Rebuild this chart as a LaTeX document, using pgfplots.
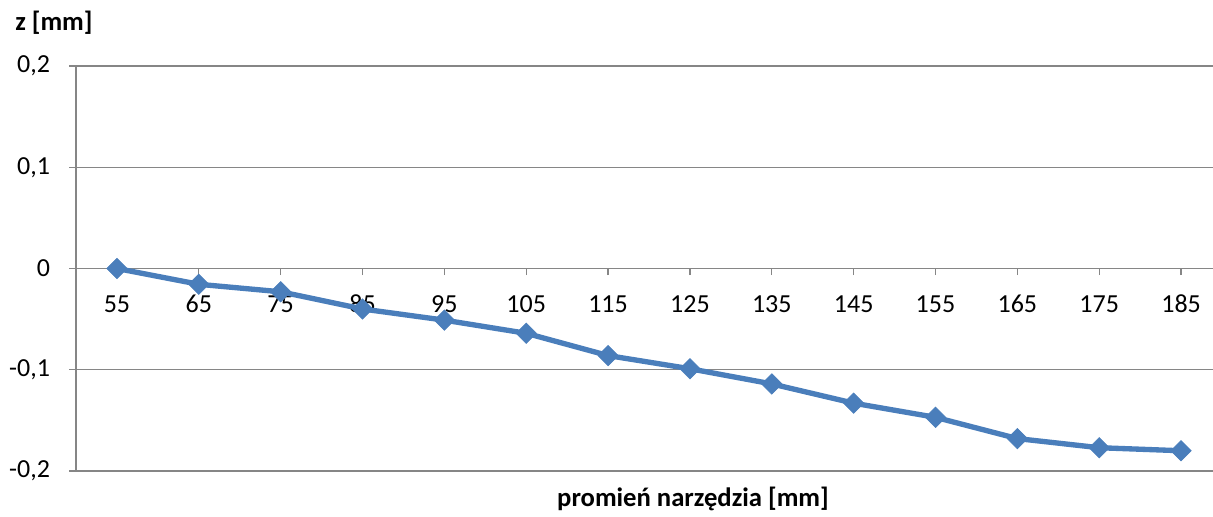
\documentclass[border=0pt]{standalone}
\usepackage{pgfplots}
\pgfplotsset{compat=1.18}
\usepackage{fontspec}
\setmainfont{Carlito}
\definecolor{serie}{RGB}{74,126,187}
\definecolor{gridc}{RGB}{134,134,134}
\begin{document}
\begin{tikzpicture}[x=1pt,y=1pt]
\path[use as bounding box] (0,0) rectangle (909.75,387.75);
\begin{axis}[
  scale only axis,
  width=852.75pt, height=303.75pt,
  at={(57pt,34.5pt)}, anchor=south west,
  xmin=-0.5, xmax=13.39,
  ymin=-0.2, ymax=0.2,
  axis x line=middle, axis y line=left,
  axis line style={gridc, line width=0.9pt, -},
  xtick={0,...,13},
  xticklabels={55,65,75,85,95,105,115,125,135,145,155,165,175,185},
  ytick={-0.2,-0.1,0,0.1,0.2},
  ymajorgrids,
  grid style={gridc, line width=0.9pt},
  tick style={gridc, line width=0.9pt},
  tick align=outside,
  major tick length=5pt,
  /pgf/number format/assume math mode=true,
  /pgf/number format/.cd, use comma, fixed, precision=1,
  /pgfplots/.cd,
  ticklabel style={font=\fontsize{19.5}{21}\selectfont, text=black},
  xticklabel style={anchor=base, yshift=-28pt},
  yticklabel style={anchor=east, xshift=-11pt},
  clip=false,
]
\addplot[serie, line width=4pt, mark=square*, mark size=5.4pt,
  mark options={rotate=45, fill=serie, draw=serie, line width=0.5pt}]
  coordinates {
  (0,0) (1,-0.0156) (2,-0.023) (3,-0.040) (4,-0.051) (5,-0.064)
  (6,-0.086) (7,-0.099) (8,-0.114) (9,-0.133) (10,-0.147)
  (11,-0.168) (12,-0.177) (13,-0.180)
  };
\end{axis}
\node[anchor=base west, inner sep=0pt, font=\fontsize{20}{22}\selectfont\bfseries] at (11.25,364.5) {z [mm]};
\node[anchor=base, inner sep=0pt, font=\fontsize{20}{22}\selectfont\bfseries] at (519.75,7.5) {promień narzędzia [mm]};
\end{tikzpicture}
\end{document}
